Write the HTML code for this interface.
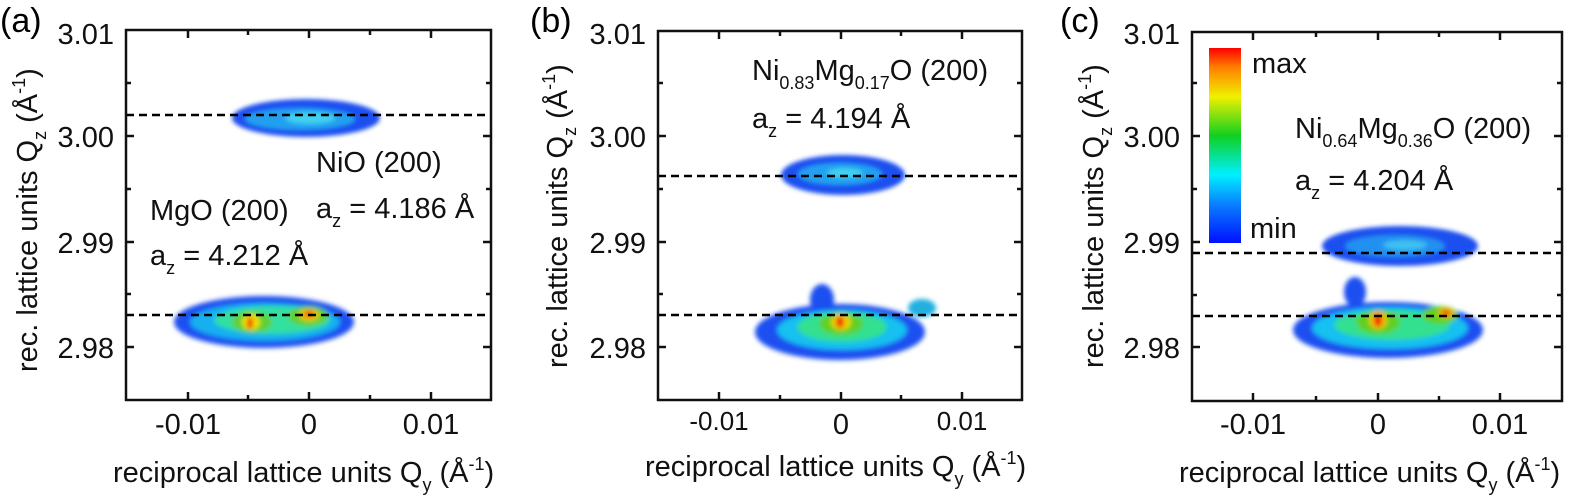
<!DOCTYPE html>
<html><head><meta charset="utf-8"><style>
body{margin:0;background:#fff;}
svg{display:block;font-family:"Liberation Sans","DejaVu Sans",sans-serif;}
.t{font-size:29px;fill:#111;}
.l{font-size:29px;fill:#111;}
.ax{fill:none;stroke:#111;stroke-width:2.5;}
.tk{stroke:#111;stroke-width:2.5;}
.d{stroke:#000;stroke-width:2.5;stroke-dasharray:8 5;}
.p{font-size:34px;}
</style></head><body>
<svg width="1575" height="499" viewBox="0 0 1575 499">
<defs>
<filter id="b" x="-30%" y="-30%" width="160%" height="160%"><feGaussianBlur stdDeviation="2.5"/></filter>
<filter id="b2" x="-30%" y="-30%" width="160%" height="160%"><feGaussianBlur stdDeviation="2"/></filter>
<linearGradient id="cb" x1="0" y1="1" x2="0" y2="0">
<stop offset="0" stop-color="#0010ff"/><stop offset="0.2" stop-color="#0a80ff"/><stop offset="0.35" stop-color="#00f0ff"/>
<stop offset="0.55" stop-color="#10d020"/><stop offset="0.75" stop-color="#f0f000"/><stop offset="0.9" stop-color="#ff8000"/><stop offset="1" stop-color="#ff0000"/>
</linearGradient>
</defs>

<!-- Panel a -->
<text class="p" x="0" y="32">(a)</text>
<g filter="url(#b2)">
<ellipse cx="306" cy="118" rx="74" ry="19" fill="#1a50f0"/>
<ellipse cx="300" cy="119" rx="55" ry="11" fill="#20a0f0"/>
<ellipse cx="310" cy="118" rx="25" ry="6" fill="#40d0f0"/>
</g>
<g filter="url(#b)">
<ellipse cx="264" cy="322" rx="90" ry="26" fill="#1a50f0"/>
<ellipse cx="265" cy="322" rx="75" ry="19" fill="#18b0f0"/>
<ellipse cx="272" cy="320" rx="58" ry="14" fill="#30e0a0"/>
<ellipse cx="252" cy="322" rx="20" ry="11" fill="#60d030"/>
<ellipse cx="308" cy="316" rx="20" ry="10" fill="#60d030"/>
<ellipse cx="251" cy="322" rx="9" ry="8" fill="#f0e000"/>
<ellipse cx="309" cy="315" rx="10" ry="6" fill="#f0c000"/>
<ellipse cx="250" cy="323" rx="3" ry="6" fill="#f02000"/>
<ellipse cx="309" cy="314" rx="5" ry="3" fill="#f05000"/>
</g>
<line x1="126" y1="115" x2="491" y2="115" class="d"/>
<line x1="126" y1="315" x2="491" y2="315" class="d"/>
<rect x="126" y="30" width="365" height="370" class="ax"/>
<g class="tk">
<line x1="126" y1="136" x2="134" y2="136"/><line x1="126" y1="242" x2="134" y2="242"/><line x1="126" y1="347" x2="134" y2="347"/>
<line x1="126" y1="83" x2="131" y2="83"/><line x1="126" y1="189" x2="131" y2="189"/><line x1="126" y1="294" x2="131" y2="294"/>
<line x1="491" y1="136" x2="483" y2="136"/><line x1="491" y1="242" x2="483" y2="242"/><line x1="491" y1="347" x2="483" y2="347"/>
<line x1="491" y1="83" x2="486" y2="83"/><line x1="491" y1="189" x2="486" y2="189"/><line x1="491" y1="294" x2="486" y2="294"/>
<line x1="188" y1="400" x2="188" y2="392"/><line x1="309" y1="400" x2="309" y2="392"/><line x1="431" y1="400" x2="431" y2="392"/>
<line x1="248" y1="400" x2="248" y2="395"/><line x1="370" y1="400" x2="370" y2="395"/>
<line x1="188" y1="30" x2="188" y2="38"/><line x1="309" y1="30" x2="309" y2="38"/><line x1="431" y1="30" x2="431" y2="38"/>
<line x1="248" y1="30" x2="248" y2="35"/><line x1="370" y1="30" x2="370" y2="35"/>
</g>
<g class="t" text-anchor="end">
<text x="114" y="44">3.01</text><text x="114" y="147">3.00</text><text x="114" y="253">2.99</text><text x="114" y="358">2.98</text>
</g>
<g class="t" text-anchor="middle">
<text x="188" y="434">-0.01</text><text x="309" y="434">0</text><text x="431" y="434">0.01</text>
</g>
<text class="l" x="113" y="482">reciprocal lattice units Q<tspan dy="9" font-size="18">y</tspan><tspan dy="-9"> (Å</tspan><tspan dy="-12" font-size="18">-1</tspan><tspan dy="12">)</tspan></text>
<text class="l" transform="translate(37,372) rotate(-90)">rec. lattice units Q<tspan dy="9" font-size="18">z</tspan><tspan dy="-9"> (Å</tspan><tspan dy="-12" font-size="18">-1</tspan><tspan dy="12">)</tspan></text>
<text class="l" x="316" y="172">NiO (200)</text>
<text class="l" x="316" y="218">a<tspan dy="9" font-size="18">z</tspan><tspan dy="-9"> = 4.186 Å</tspan></text>
<text class="l" x="150" y="220">MgO (200)</text>
<text class="l" x="150" y="265">a<tspan dy="9" font-size="18">z</tspan><tspan dy="-9"> = 4.212 Å</tspan></text>

<!-- Panel b -->
<text class="p" x="530" y="32">(b)</text>
<g filter="url(#b2)">
<ellipse cx="843" cy="175" rx="62" ry="20" fill="#1a50f0"/>
<ellipse cx="840" cy="174" rx="42" ry="11" fill="#20a0f0"/>
<ellipse cx="845" cy="173" rx="18" ry="5" fill="#40d0f0"/>
</g>
<g filter="url(#b)">
<ellipse cx="840" cy="332" rx="85" ry="28" fill="#1a50f0"/>
<ellipse cx="822" cy="300" rx="12" ry="16" fill="#1a50f0"/>
<ellipse cx="922" cy="308" rx="14" ry="9" fill="#20b0e0"/>
<ellipse cx="842" cy="330" rx="65" ry="20" fill="#18c0f0"/>
<ellipse cx="842" cy="327" rx="45" ry="15" fill="#30e090"/>
<ellipse cx="841" cy="324" rx="22" ry="11" fill="#60d020"/>
<ellipse cx="841" cy="322" rx="10" ry="8" fill="#f0d000"/>
<ellipse cx="840" cy="322" rx="4" ry="6" fill="#f02000"/>
</g>
<line x1="658" y1="176" x2="1022" y2="176" class="d"/>
<line x1="658" y1="315" x2="1022" y2="315" class="d"/>
<rect x="658" y="31" width="364" height="369" class="ax"/>
<g class="tk">
<line x1="658" y1="136" x2="666" y2="136"/><line x1="658" y1="242" x2="666" y2="242"/><line x1="658" y1="347" x2="666" y2="347"/>
<line x1="658" y1="83" x2="663" y2="83"/><line x1="658" y1="189" x2="663" y2="189"/><line x1="658" y1="294" x2="663" y2="294"/>
<line x1="1022" y1="136" x2="1014" y2="136"/><line x1="1022" y1="242" x2="1014" y2="242"/><line x1="1022" y1="347" x2="1014" y2="347"/>
<line x1="1022" y1="83" x2="1017" y2="83"/><line x1="1022" y1="189" x2="1017" y2="189"/><line x1="1022" y1="294" x2="1017" y2="294"/>
<line x1="719" y1="400" x2="719" y2="392"/><line x1="841" y1="400" x2="841" y2="392"/><line x1="962" y1="400" x2="962" y2="392"/>
<line x1="780" y1="400" x2="780" y2="395"/><line x1="901" y1="400" x2="901" y2="395"/>
<line x1="719" y1="31" x2="719" y2="39"/><line x1="841" y1="31" x2="841" y2="39"/><line x1="962" y1="31" x2="962" y2="39"/>
<line x1="780" y1="31" x2="780" y2="36"/><line x1="901" y1="31" x2="901" y2="36"/>
</g>
<g class="t" text-anchor="end">
<text x="646" y="44">3.01</text><text x="646" y="147">3.00</text><text x="646" y="253">2.99</text><text x="646" y="358">2.98</text>
</g>
<g class="t" text-anchor="middle" style="font-size:26px">
<text x="719" y="430">-0.01</text><text x="841" y="434" style="font-size:29px">0</text><text x="962" y="430">0.01</text>
</g>
<text class="l" x="645" y="476">reciprocal lattice units Q<tspan dy="9" font-size="18">y</tspan><tspan dy="-9"> (Å</tspan><tspan dy="-12" font-size="18">-1</tspan><tspan dy="12">)</tspan></text>
<text class="l" transform="translate(567,368) rotate(-90)">rec. lattice units Q<tspan dy="9" font-size="18">z</tspan><tspan dy="-9"> (Å</tspan><tspan dy="-12" font-size="18">-1</tspan><tspan dy="12">)</tspan></text>
<text class="l" x="752" y="80">Ni<tspan dy="9" font-size="18">0.83</tspan><tspan dy="-9">Mg</tspan><tspan dy="9" font-size="18">0.17</tspan><tspan dy="-9">O (200)</tspan></text>
<text class="l" x="752" y="128">a<tspan dy="9" font-size="18">z</tspan><tspan dy="-9"> = 4.194 Å</tspan></text>

<!-- Panel c -->
<text class="p" x="1060" y="32">(c)</text>
<rect x="1209" y="48" width="32" height="195" fill="url(#cb)"/>
<text class="l" x="1252" y="73">max</text>
<text class="l" x="1250" y="238">min</text>
<g filter="url(#b2)">
<ellipse cx="1400" cy="246" rx="78" ry="20" fill="#1a50f0"/>
<ellipse cx="1395" cy="246" rx="50" ry="11" fill="#2090f0"/>
<ellipse cx="1405" cy="245" rx="22" ry="5" fill="#40c0f0"/>
</g>
<g filter="url(#b)">
<ellipse cx="1388" cy="330" rx="95" ry="28" fill="#1a50f0"/>
<ellipse cx="1355" cy="292" rx="11" ry="15" fill="#1a50f0"/>
<ellipse cx="1390" cy="328" rx="78" ry="21" fill="#18c0f0"/>
<ellipse cx="1392" cy="325" rx="58" ry="15" fill="#30e090"/>
<ellipse cx="1378" cy="322" rx="22" ry="12" fill="#60d020"/>
<ellipse cx="1440" cy="315" rx="18" ry="9" fill="#60d020"/>
<ellipse cx="1378" cy="320" rx="9" ry="9" fill="#f0c000"/>
<ellipse cx="1446" cy="313" rx="8" ry="5" fill="#f0b000"/>
<ellipse cx="1378" cy="320" rx="4" ry="7" fill="#f02000"/>
<ellipse cx="1446" cy="313" rx="4" ry="3" fill="#f04000"/>
</g>
<line x1="1192" y1="253" x2="1562" y2="253" class="d"/>
<line x1="1192" y1="316" x2="1562" y2="316" class="d"/>
<rect x="1192" y="32" width="370" height="369" class="ax"/>
<g class="tk">
<line x1="1192" y1="136" x2="1200" y2="136"/><line x1="1192" y1="242" x2="1200" y2="242"/><line x1="1192" y1="347" x2="1200" y2="347"/>
<line x1="1192" y1="83" x2="1197" y2="83"/><line x1="1192" y1="189" x2="1197" y2="189"/><line x1="1192" y1="295" x2="1197" y2="295"/>
<line x1="1562" y1="136" x2="1554" y2="136"/><line x1="1562" y1="242" x2="1554" y2="242"/><line x1="1562" y1="347" x2="1554" y2="347"/>
<line x1="1562" y1="83" x2="1557" y2="83"/><line x1="1562" y1="189" x2="1557" y2="189"/><line x1="1562" y1="295" x2="1557" y2="295"/>
<line x1="1253" y1="401" x2="1253" y2="393"/><line x1="1378" y1="401" x2="1378" y2="393"/><line x1="1500" y1="401" x2="1500" y2="393"/>
<line x1="1316" y1="401" x2="1316" y2="396"/><line x1="1439" y1="401" x2="1439" y2="396"/>
<line x1="1253" y1="32" x2="1253" y2="40"/><line x1="1378" y1="32" x2="1378" y2="40"/><line x1="1500" y1="32" x2="1500" y2="40"/>
<line x1="1316" y1="32" x2="1316" y2="37"/><line x1="1439" y1="32" x2="1439" y2="37"/>
</g>
<g class="t" text-anchor="end">
<text x="1180" y="44">3.01</text><text x="1180" y="147">3.00</text><text x="1180" y="253">2.99</text><text x="1180" y="358">2.98</text>
</g>
<g class="t" text-anchor="middle">
<text x="1253" y="434">-0.01</text><text x="1378" y="434">0</text><text x="1500" y="434">0.01</text>
</g>
<text class="l" x="1179" y="482">reciprocal lattice units Q<tspan dy="9" font-size="18">y</tspan><tspan dy="-9"> (Å</tspan><tspan dy="-12" font-size="18">-1</tspan><tspan dy="12">)</tspan></text>
<text class="l" transform="translate(1103,368) rotate(-90)">rec. lattice units Q<tspan dy="9" font-size="18">z</tspan><tspan dy="-9"> (Å</tspan><tspan dy="-12" font-size="18">-1</tspan><tspan dy="12">)</tspan></text>
<text class="l" x="1295" y="138">Ni<tspan dy="9" font-size="18">0.64</tspan><tspan dy="-9">Mg</tspan><tspan dy="9" font-size="18">0.36</tspan><tspan dy="-9">O (200)</tspan></text>
<text class="l" x="1295" y="190">a<tspan dy="9" font-size="18">z</tspan><tspan dy="-9"> = 4.204 Å</tspan></text>
</svg>
</body></html>
